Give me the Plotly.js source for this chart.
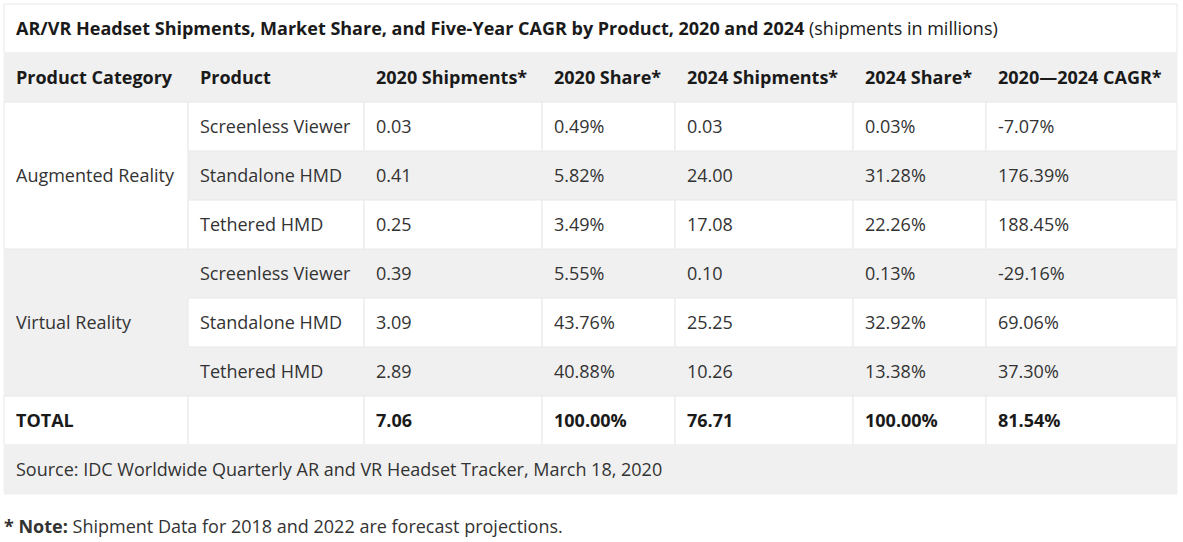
<!DOCTYPE html>
<html>
<head>
<meta charset="utf-8">
<script src="https://cdn.plot.ly/plotly-3.0.1.min.js"></script>
<style>
html,body{margin:0;padding:0;background:#fff;}
#chart{width:1183px;height:542px;}
</style>
</head>
<body>
<div id="chart"></div>
<script>
// ---------- data ----------
const titleBold = "AR/VR Headset Shipments, Market Share, and Five-Year CAGR by Product, 2020 and 2024";
const titleNote = "(shipments in millions)";
const headers = ["Product Category", "Product", "2020 Shipments*", "2020 Share*", "2024 Shipments*", "2024 Share*", "2020\u20142024 CAGR*"];
const categories = ["Augmented Reality", "Virtual Reality"];
const products = ["Screenless Viewer", "Standalone HMD", "Tethered HMD"];
const ship2020 = [0.03, 0.41, 0.25, 0.39, 3.09, 2.89];
const share2020 = [0.49, 5.82, 3.49, 5.55, 43.76, 40.88];
const ship2024 = [0.03, 24.00, 17.08, 0.10, 25.25, 10.26];
const share2024 = [0.03, 31.28, 22.26, 0.13, 32.92, 13.38];
const cagr = [-7.07, 176.39, 188.45, -29.16, 69.06, 37.30];
const totalLabel = "TOTAL";
const totalShip2020 = 7.06;
const totalShare2020 = 100.00;
const totalShip2024 = 76.71;
const totalShare2024 = 100.00;
const totalCagr = 81.54;
const sourceText = "Source: IDC Worldwide Quarterly AR and VR Headset Tracker, March 18, 2020";
const noteBold = "* Note:";
const noteText = " Shipment Data for 2018 and 2022 are forecast projections.";

// ---------- layout constants ----------
const colX = [4, 188, 364, 542, 675, 853, 986, 1177];
const top0 = 4, rowH = 49;
const GREY = "#f0f0f0", WHITE = "#ffffff", LINE = "#e8e8e8";
const TXT = "#333333", DARK = "#1a1a1a";
const FONT = "'Open Sans', sans-serif";
const FS = 18;
const dy = -1;

const shapes = [];
const ann = [];
function rowTop(i){ return top0 + i*rowH; }
function cell(x0, x1, r0, nRows, fill){
  shapes.push({type:"rect", xref:"x", yref:"y", x0:x0, x1:x1, y0:rowTop(r0), y1:rowTop(r0+nRows),
    fillcolor: fill, line:{color: fill===GREY ? GREY : LINE, width:1}, layer:"below"});
}
const pad = 10;
function txt(x, r, text, bold, color){
  ann.push({xref:"x", yref:"y", x:x, y:rowTop(r)+rowH/2+dy, text: bold ? "<b>"+text+"</b>" : text,
    showarrow:false, xanchor:"left", yanchor:"middle", align:"left",
    font:{family:FONT, size:FS, color: color || (bold ? DARK : TXT)}});
}
const fmt = v => v.toFixed(2);
const pct = v => v.toFixed(2) + "%";

// title row (row 0)
cell(colX[0], colX[7], 0, 1, WHITE);
ann.push({xref:"x", yref:"y", x:colX[0]+pad, y:rowTop(0)+rowH/2+dy,
  text:"<b>"+titleBold+"</b> "+titleNote, showarrow:false, xanchor:"left", yanchor:"middle",
  font:{family:FONT, size:FS, color:DARK}});

// header row (row 1)
cell(colX[0], colX[7], 1, 1, GREY);
headers.forEach((h,c)=>txt(colX[c]+pad, 1, h, true));

// body rows
const fills = [];
for (let g=0; g<categories.length; g++){
  for (let p=0; p<products.length; p++){
    const i = g*products.length + p;
    fills.push(i%2===0 ? WHITE : GREY);
  }
}
[GREY, WHITE].forEach(pass=>{
  for (let g=0; g<categories.length; g++){
    const r0 = 2 + g*products.length;
    const catFill = fills[g*products.length];
    if (catFill===pass) cell(colX[0], colX[1], r0, products.length, catFill);
    for (let p=0; p<products.length; p++){
      const i = g*products.length + p;
      if (fills[i]!==pass) continue;
      for (let c=1; c<7; c++) cell(colX[c], colX[c+1], r0+p, 1, fills[i]);
    }
  }
});
for (let g=0; g<categories.length; g++){
  const r0 = 2 + g*products.length;
  ann.push({xref:"x", yref:"y", x:colX[0]+pad, y:rowTop(r0)+products.length*rowH/2+dy, text:categories[g],
    showarrow:false, xanchor:"left", yanchor:"middle", font:{family:FONT, size:FS, color:TXT}});
  for (let p=0; p<products.length; p++){
    const i = g*products.length + p, r = r0+p;
    txt(colX[1]+pad, r, products[p]);
    txt(colX[2]+pad, r, fmt(ship2020[i]));
    txt(colX[3]+pad, r, pct(share2020[i]));
    txt(colX[4]+pad, r, fmt(ship2024[i]));
    txt(colX[5]+pad, r, pct(share2024[i]));
    txt(colX[6]+pad, r, pct(cagr[i]));
  }
}
// total row
const rT = 2 + categories.length*products.length;
for (let c=0; c<7; c++) cell(colX[c], colX[c+1], rT, 1, WHITE);
txt(colX[0]+pad, rT, totalLabel, true);
txt(colX[2]+pad, rT, fmt(totalShip2020), true);
txt(colX[3]+pad, rT, pct(totalShare2020), true);
txt(colX[4]+pad, rT, fmt(totalShip2024), true);
txt(colX[5]+pad, rT, pct(totalShare2024), true);
txt(colX[6]+pad, rT, pct(totalCagr), true);
// source row
const rS = rT + 1;
cell(colX[0], colX[7], rS, 1, GREY);
txt(colX[0]+pad, rS, sourceText);
// note
ann.push({xref:"x", yref:"y", x:colX[0]-2, y:527+dy, text:"<b>"+noteBold+"</b>"+noteText,
  showarrow:false, xanchor:"left", yanchor:"middle", font:{family:FONT, size:FS, color:TXT}});

const layout = {
  width:1183, height:542,
  margin:{l:0, r:0, t:0, b:0, pad:0},
  paper_bgcolor:"#fff", plot_bgcolor:"#fff",
  xaxis:{range:[0,1183], visible:false, fixedrange:true},
  yaxis:{range:[542,0], visible:false, fixedrange:true},
  shapes: shapes, annotations: ann, showlegend:false
};
Plotly.newPlot("chart", [{x:[0], y:[0], mode:"markers", marker:{opacity:0}, hoverinfo:"skip"}], layout, {staticPlot:true, displayModeBar:false});
</script>
</body>
</html>
